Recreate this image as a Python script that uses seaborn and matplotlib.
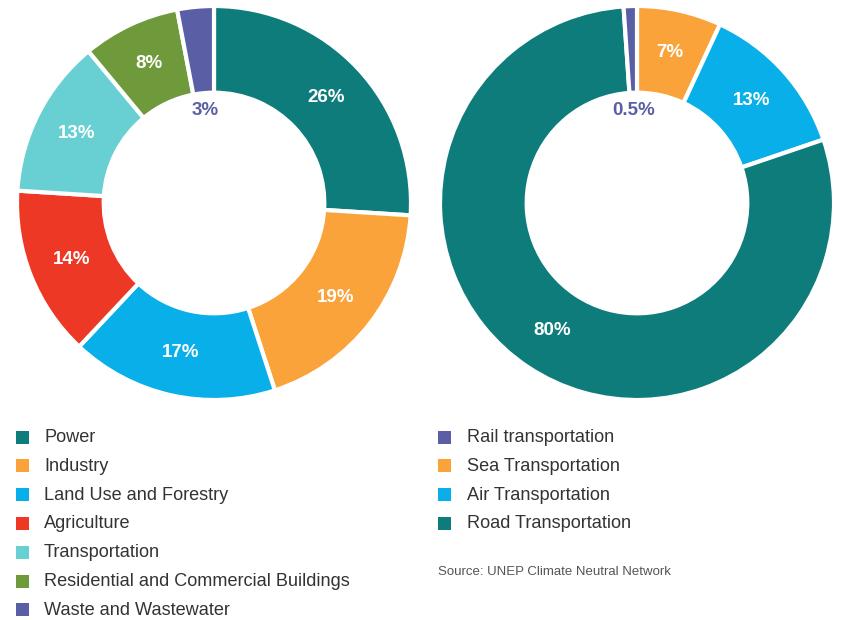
import numpy as np
import pandas as pd
import seaborn as sns
import matplotlib
matplotlib.use('Agg')
import matplotlib.pyplot as plt
from matplotlib.patches import Rectangle

# Here is the data
sector_names = ['Power', 'Industry', 'Land Use and Forestry', 'Agriculture',
                'Transportation', 'Residential and Commercial Buildings',
                'Waste and Wastewater']
sector_shares = [26, 19, 17, 14, 13, 8, 3]
sector_labels = ['26%', '19%', '17%', '14%', '13%', '8%', '3%']

transport_names = ['Rail transportation', 'Sea Transportation',
                   'Air Transportation', 'Road Transportation']
# rail is printed as 0.5% but the sliver in the original is drawn wider, ~1.1%
transport_shares = [1.1, 7, 13, 80]
transport_labels = ['0.5%', '7%', '13%', '80%']
# clockwise order of the wedges from 12 o'clock on the right donut
transport_draw_order = ['Sea Transportation', 'Air Transportation',
                        'Road Transportation', 'Rail transportation']

source_note = 'Source: UNEP Climate Neutral Network'

# colours
teal = '#0f7c7c'
orange = '#fba33b'
blue = '#08afe8'
red = '#ec3825'
light_teal = '#68d0d2'
green = '#6e9a3c'
purple = '#5a5ea5'

sector_colors = sns.color_palette([teal, orange, blue, red, light_teal, green, purple])
transport_colors = sns.color_palette([purple, orange, blue, teal])

sns.set_theme(style='white')
plt.rcParams['font.family'] = ['Liberation Sans', 'DejaVu Sans']

W, H = 850, 620
fig = plt.figure(figsize=(W / 100, H / 100), dpi=100)
fig.patch.set_facecolor('white')


# put an axes so that the pie sits at a given pixel centre and radius
def pie_axes(cx, cy, r):
    return fig.add_axes([(cx - r) / W, (H - cy - r) / H, 2 * r / W, 2 * r / H])


def donut(ax, df):
    wedges, _ = ax.pie(df['value'], colors=df['color'], startangle=90,
                       counterclock=False, radius=1.0,
                       wedgeprops=dict(width=0.44, edgecolor='white', linewidth=3))
    ax.set_xlim(-1, 1)
    ax.set_ylim(-1, 1)
    ax.set_aspect('equal')
    ax.axis('off')
    # labels: white in the ring, small ones go inside the hole
    for w, (_, row) in zip(wedges, df.iterrows()):
        mid = np.deg2rad((w.theta1 + w.theta2) / 2)
        if row['value'] < 5:
            r, col = 0.47, purple
        else:
            r, col = 0.78, 'white'
        ax.text(r * np.cos(mid), r * np.sin(mid), row['label'], ha='center', va='center',
                color=col, fontsize=13.5, fontweight='bold')


s_df = pd.DataFrame({'name': sector_names, 'value': sector_shares,
                     'label': sector_labels, 'color': list(sector_colors)})
ax1 = pie_axes(214, 203, 197)
donut(ax1, s_df)

t_df = pd.DataFrame({'name': transport_names, 'value': transport_shares,
                     'label': transport_labels, 'color': list(transport_colors)})
t_df = t_df.set_index('name').loc[transport_draw_order].reset_index()
ax2 = pie_axes(637, 203, 197)
donut(ax2, t_df)


# legends done by hand so the rows line up like the original
def legend_rows(names, colors, x_box, x_text, y_first, step):
    for i, (n, c) in enumerate(zip(names, colors)):
        y = y_first + i * step
        fig.add_artist(Rectangle((x_box / W, 1 - (y + 6.5) / H), 13 / W, 13 / H,
                                 transform=fig.transFigure, facecolor=c, edgecolor='none'))
        fig.text(x_text / W, 1 - (y + 0.5) / H, n, ha='left', va='center',
                 fontsize=13.1, color='#333333')


legend_rows(sector_names, sector_colors, 16, 44, 437, 28.8)
legend_rows(transport_names, transport_colors, 438, 467, 437, 28.8)

fig.text(438 / W, 1 - 572 / H, source_note, ha='left', va='center',
         fontsize=9.5, color='#555555')

fig.savefig('out.png', dpi=100)
